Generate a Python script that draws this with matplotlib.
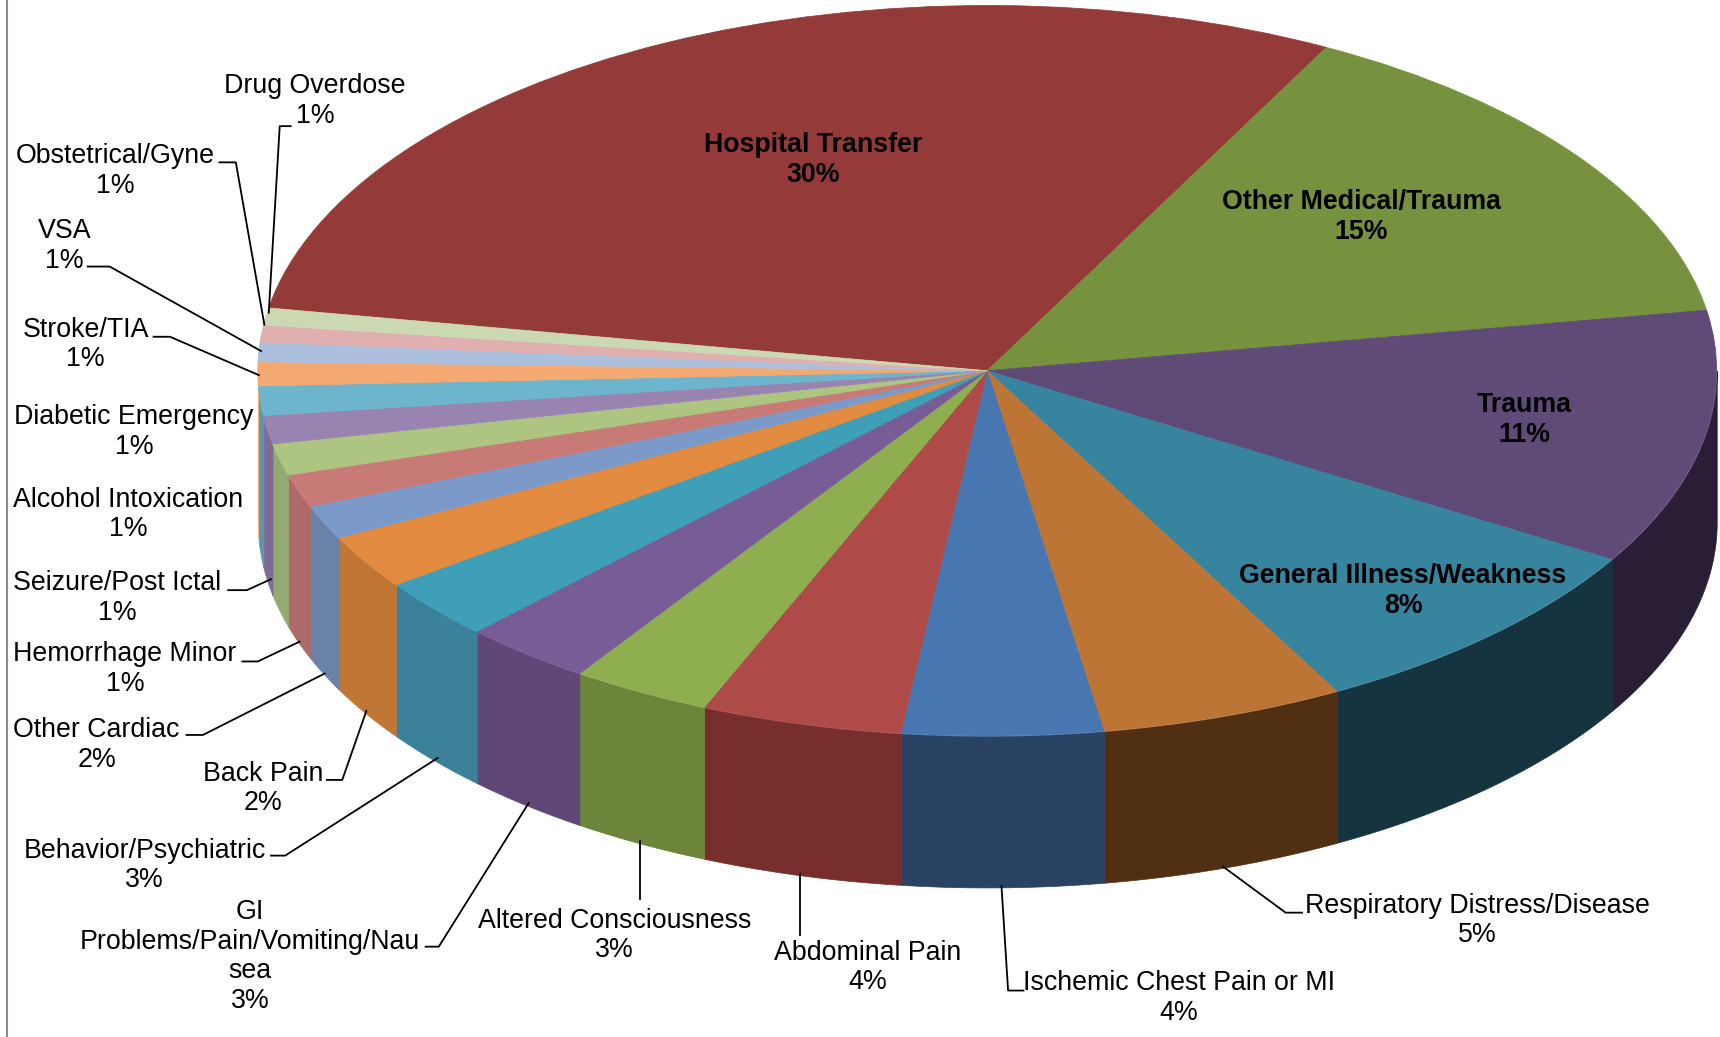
import numpy as np
import matplotlib
matplotlib.use('Agg')
import matplotlib.pyplot as plt

plt.rcParams['font.family'] = ['Liberation Sans', 'DejaVu Sans']

names = ['Hospital Transfer', 'Other Medical/Trauma', 'Trauma', 'General Illness/Weakness',
         'Respiratory Distress/Disease', 'Ischemic Chest Pain or MI', 'Abdominal Pain',
         'Altered Consciousness', 'GI\nProblems/Pain/Vomiting/Nau\nsea', 'Behavior/Psychiatric',
         'Back Pain', 'Other Cardiac', 'Hemorrhage Minor', 'Seizure/Post Ictal',
         'Alcohol Intoxication', 'Diabetic Emergency', 'Stroke/TIA', 'VSA',
         'Obstetrical/Gyne', 'Drug Overdose']
values = [29.95, 14.65, 11.3, 8.4, 5.4, 4.45, 4.45, 3.1, 2.9, 2.7, 2.4, 1.5, 1.45, 1.4,
          1.25, 1.3, 1.05, 0.86, 0.75, 0.75]
top_colors = ['#943a38', '#77923f', '#5f4a78', '#37849e', '#bd7535', '#4876b0', '#ae4a47',
              '#8fae50', '#775c96', '#3f9fb9', '#e28a3f', '#7b9ac9', '#c87a77', '#adc581',
              '#9983b0', '#6db5cd', '#f4a872', '#abbfdd', '#dfb0af', '#cbd9b2']
wall_colors = ['#943a38', '#77923f', '#2a1e36', '#16343f', '#502f13', '#2a4263', '#772e2d',
               '#6d853a', '#5f4878', '#3a8199', '#c07736', '#6a82a8', '#ad6a68', '#95aa72',
               '#7f6c96', '#5f95aa', '#f4a872', '#abbfdd', '#dfb0af', '#cbd9b2']

# layout is read in the 1568 wide preview, S brings it to full size
S = 1720 / 1568
W, H = 1720, 1037
cx, cy = 900 * S, 338 * S
rx, ry = 665 * S, 333 * S
depth = 138 * S / ry

label_pos = [(741, 146), (1241, 198), (1390, 383), (1279, 539), (1347, 839), (1075, 910),
             (791, 882), (560, 853), (228, 872), (132, 789), (240, 719), (88, 679), (114, 610),
             (107, 545), (117, 469), (122, 394), (78, 314), (59, 224), (105, 156), (287, 92)]
leaders = [None, None, None, None,
           [(1187, 832), (1172, 832), (1115, 790)],
           [(933, 903), (919, 903), (913, 808)],
           [(729, 852), (729, 797)],
           [(583, 820), (583, 767)],
           [(388, 863), (400, 863), (482, 732)],
           [(247, 780), (260, 780), (399, 691)],
           [(298, 711), (312, 711), (334, 648)],
           [(170, 670), (185, 670), (296, 614)],
           [(221, 603), (235, 603), (273, 585)],
           [(208, 538), (225, 538), (247, 528)],
           None, None,
           [(140, 307), (155, 307), (236, 342)],
           [(80, 243), (100, 243), (238, 320)],
           [(200, 148), (215, 148), (241, 296)],
           [(265, 115), (255, 115), (245, 285)]]

fig = plt.figure(figsize=(W / 100, H / 100), dpi=100)
ax = fig.add_axes([0, 0, 1, 1])
wedges, _ = ax.pie(values, colors=top_colors, startangle=170.1, counterclock=False,
                   wedgeprops={'linewidth': 0.5}, frame=True)
for w, c in zip(wedges, top_colors):
    w.set_edgecolor(c)
    w.set_zorder(2)

# side of the disc, only the part facing the viewer
for w, c in zip(wedges, wall_colors):
    a = max(w.theta1, -180)
    b = min(w.theta2, 0)
    if a >= b:
        continue
    t = np.radians(np.linspace(a, b, 80))
    ax.fill_between(np.cos(t), np.sin(t), np.sin(t) - depth, color=c, linewidth=0.5, zorder=1)

ax.set_aspect('auto')
ax.set_xlim(-cx / rx, (W - cx) / rx)
ax.set_ylim((cy - H) / ry, cy / ry)
ax.axis('off')

# labels and leader lines on top, in pixels
ov = fig.add_axes([0, 0, 1, 1], facecolor='none')
ov.set_xlim(0, W)
ov.set_ylim(H, 0)
ov.axis('off')
ov.plot([6.5, 6.5], [0, H], color='#8c8c8c', lw=1.5)

for i, (name, v) in enumerate(zip(names, values)):
    x, y = label_pos[i]
    ov.text(x * S, y * S, f'{name}\n{v:.0f}%', ha='center', va='center', fontsize=19.3,
            linespacing=1.18, color='black', fontweight='bold' if i < 4 else 'normal')
    if leaders[i]:
        pts = np.array(leaders[i]) * S
        ov.plot(pts[:, 0], pts[:, 1], color='black', lw=1.3)

fig.savefig('out.png', dpi=100)
